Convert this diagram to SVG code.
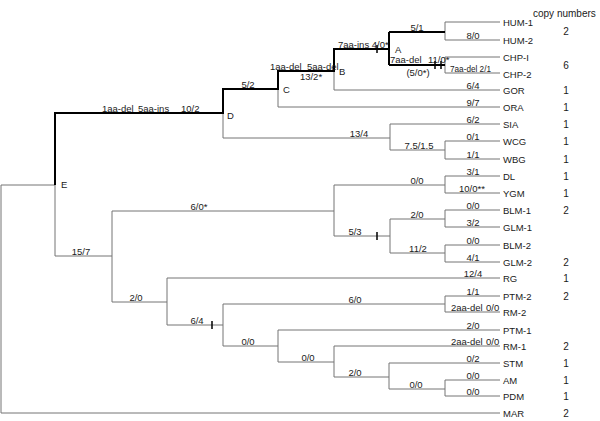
<svg xmlns="http://www.w3.org/2000/svg" width="600" height="421" viewBox="0 0 600 421">
<style>
text{font-family:"Liberation Sans",Arial,sans-serif;font-size:9.5px;fill:#1a1a1a}
.thin{fill:none;stroke:#747474;stroke-width:1}
.thick{fill:none;stroke:#000;stroke-width:2}
.tick{fill:none;stroke:#000;stroke-width:1.5}
.m{text-anchor:middle}
.cn{text-anchor:middle;font-size:10px}
</style>
<rect width="600" height="421" fill="#fff"/>
<g id="connectors">
<path class="thin" d="M1,185V413H500M1,185H55M55,185V256H112M112,211V302M112,211H334M112,302H167M334,185V236M334,185H445M334,236H390M445,176V193M445,176H500M445,193H500M390,219V253M390,219H445M390,253H445M445,210V227M445,210H500M445,227H500M445,245V262M445,245H500M445,262H500M167,278V325M167,278H500M167,325H223M223,304V346M223,304H445M223,346H278M445,296V312M445,296H500M445,312H500M278,330V362M278,330H500M278,362H334M334,346V377M334,346H500M334,377H389M389,363V389M389,363H500M389,389H445M445,380V396M445,380H500M445,396H500M223,113V138H390M390,124V150M390,124H500M390,150H445M445,141V159M445,141H500M445,159H500M278,89V107H500M334,71V90H500M445,22V40M445,22H500M445,40H500M445,57V73M445,57H500M445,73H500"/>
<path class="thick" d="M55,185V113H223V89H278V71H334V49H389M389,32V65M389,32H445M389,65H445"/>
<path class="tick" d="M377,45V53M435,61V69M441,61V69M377,232V240M212,321V329"/>
</g>
<g id="branch-labels">
<text x="102" y="112">1aa-del</text><text x="138" y="112">5aa-ins</text><text x="181" y="112">10/2</text>
<text class="m" x="248" y="88">5/2</text>
<text x="270" y="70">1aa-del</text><text x="307" y="70">5aa-del</text>
<text class="m" x="311" y="80">13/2*</text>
<text x="338" y="47.5">7aa-ins 4/0*</text>
<text class="m" x="417" y="31">5/1</text>
<text x="390" y="63">7aa-del</text><text x="428" y="63">11/0*</text>
<text class="m" x="418" y="75.5">(5/0*)</text>
<text class="m" x="473" y="39">8/0</text>
<text x="450" y="72" textLength="41" lengthAdjust="spacingAndGlyphs">7aa-del 2/1</text>
<text class="m" x="473" y="89">6/4</text>
<text class="m" x="473" y="106">9/7</text>
<text class="m" x="359" y="137">13/4</text>
<text class="m" x="473" y="123">6/2</text>
<text class="m" x="419" y="149">7.5/1.5</text>
<text class="m" x="473" y="140">0/1</text>
<text class="m" x="473" y="158">1/1</text>
<text class="m" x="81" y="255">15/7</text>
<text class="m" x="199" y="210">6/0*</text>
<text class="m" x="417" y="184">0/0</text>
<text class="m" x="473" y="175">3/1</text>
<text class="m" x="472" y="192">10/0**</text>
<text class="m" x="355" y="235">5/3</text>
<text class="m" x="417" y="218">2/0</text>
<text class="m" x="418" y="252">11/2</text>
<text class="m" x="473" y="209">0/0</text>
<text class="m" x="473" y="226">3/2</text>
<text class="m" x="473" y="244">0/0</text>
<text class="m" x="473" y="261">4/1</text>
<text class="m" x="136" y="301">2/0</text>
<text class="m" x="473" y="277">12/4</text>
<text class="m" x="197" y="324">6/4</text>
<text class="m" x="355" y="303">6/0</text>
<text class="m" x="473" y="295">1/1</text>
<text x="451" y="311">2aa-del</text><text x="486" y="311">0/0</text>
<text class="m" x="248" y="345">0/0</text>
<text class="m" x="473" y="329">2/0</text>
<text class="m" x="308" y="361">0/0</text>
<text x="451" y="345">2aa-del</text><text x="486" y="345">0/0</text>
<text class="m" x="355" y="376">2/0</text>
<text class="m" x="473" y="362">0/2</text>
<text class="m" x="416" y="388">0/0</text>
<text class="m" x="473" y="379">0/0</text>
<text class="m" x="473" y="395">0/0</text>
</g>
<g id="node-A"><text x="395" y="53">A</text></g>
<g id="node-B"><text x="339" y="75">B</text></g>
<g id="node-C"><text x="283" y="93">C</text></g>
<g id="node-D"><text x="227" y="119">D</text></g>
<g id="node-E"><text x="61" y="188">E</text></g>
<g id="header"><text x="533" y="17" style="font-size:10px">copy numbers</text></g>
<g id="HUM-1"><text x="503" y="25.5">HUM-1</text></g>
<g id="HUM-2"><text x="503" y="43.5">HUM-2</text></g>
<g id="HUM-copy"><text class="cn" x="566" y="34.5">2</text></g>
<g id="CHP-I"><text x="503" y="60.5">CHP-I</text></g>
<g id="CHP-2"><text x="503" y="78">CHP-2</text></g>
<g id="CHP-copy"><text class="cn" x="566" y="68.5">6</text></g>
<g id="GOR"><text x="503" y="93.5">GOR</text><text class="cn" x="566" y="93.5">1</text></g>
<g id="ORA"><text x="503" y="110.5">ORA</text><text class="cn" x="566" y="110.5">1</text></g>
<g id="SIA"><text x="503" y="127.5">SIA</text><text class="cn" x="566" y="127.5">1</text></g>
<g id="WCG"><text x="503" y="144.5">WCG</text><text class="cn" x="566" y="144.5">1</text></g>
<g id="WBG"><text x="503" y="162.5">WBG</text><text class="cn" x="566" y="162.5">1</text></g>
<g id="DL"><text x="503" y="179.5">DL</text><text class="cn" x="566" y="179.5">1</text></g>
<g id="YGM"><text x="503" y="196.5">YGM</text><text class="cn" x="566" y="196.5">1</text></g>
<g id="BLM-1"><text x="503" y="213.5">BLM-1</text><text class="cn" x="566" y="213.5">2</text></g>
<g id="GLM-1"><text x="503" y="230.5">GLM-1</text></g>
<g id="BLM-2"><text x="503" y="248.5">BLM-2</text></g>
<g id="GLM-2"><text x="503" y="265.5">GLM-2</text><text class="cn" x="566" y="265.5">2</text></g>
<g id="RG"><text x="503" y="281.5">RG</text><text class="cn" x="566" y="281.5">1</text></g>
<g id="PTM-2"><text x="503" y="299.5">PTM-2</text><text class="cn" x="566" y="299.5">2</text></g>
<g id="RM-2"><text x="503" y="316">RM-2</text></g>
<g id="PTM-1"><text x="503" y="333.5">PTM-1</text></g>
<g id="RM-1"><text x="503" y="350">RM-1</text><text class="cn" x="566" y="350">2</text></g>
<g id="STM"><text x="503" y="366.5">STM</text><text class="cn" x="566" y="366.5">1</text></g>
<g id="AM"><text x="503" y="383.5">AM</text><text class="cn" x="566" y="383.5">1</text></g>
<g id="PDM"><text x="503" y="399.5">PDM</text><text class="cn" x="566" y="399.5">1</text></g>
<g id="MAR"><text x="503" y="416.5">MAR</text><text class="cn" x="566" y="416.5">2</text></g>
</svg>
